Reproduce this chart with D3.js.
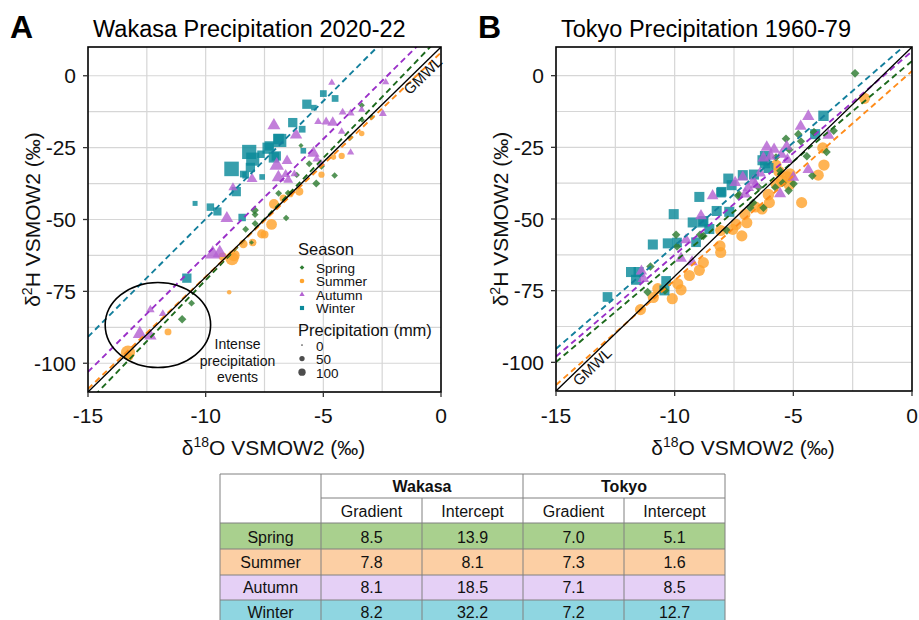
<!DOCTYPE html>
<html><head><meta charset="utf-8">
<script src="https://cdn.jsdelivr.net/npm/d3@7"></script>
<style>body{margin:0;background:#fff;} svg{display:block;font-family:"Liberation Sans",Arial,sans-serif;}</style>
</head><body><svg id="c" width="919" height="620"></svg>
<script>
// ---------------- data ----------------
const seasons = ["Spring", "Summer", "Autumn", "Winter"];
const xTicks = [-15, -10, -5, 0];
const yTicks = [0, -25, -50, -75, -100];
const sizeLegend = [0, 50, 100];

// table / regression values
const wakasaGradient = [8.5, 7.8, 8.1, 8.2];
const wakasaIntercept = [13.9, 8.1, 18.5, 32.2];
const tokyoGradient = [7.0, 7.3, 7.1, 7.2];
const tokyoIntercept = [5.1, 1.6, 8.5, 12.7];
const gmwl = [8, 10];

// [d18O, d2H, precipitation mm]
const wakasaSpring = [[-3.37,-10.3,40],[-2.95,-14.4,40],[-3.35,-15.4,30],[-3.86,-21.5,45],[-5.95,-24.3,25],[-5.6,-30.6,50],[-5.08,-31.5,50],[-4.52,-34.7,45],[-5.3,-37.5,70],[-6.9,-40.9,50],[-6.5,-40.8,45],[-7.92,-46.8,80],[-7.9,-48.3,50],[-6.58,-49.5,45],[-7.9,-51.4,50],[-8.3,-53.4,50],[-8.05,-58,20],[-10.6,-79.1,50],[-11.0,-84.7,80],[-6.13,-34.5,40]];
const wakasaSummer = [[-3.37,-20.1,30],[-4.22,-27.9,40],[-4.57,-28.3,30],[-5.08,-34.4,40],[-6.02,-40.3,70],[-6.4,-41.2,40],[-6.7,-42.6,60],[-7.1,-44.6,110],[-7.2,-51.7,130],[-7.5,-55.2,70],[-7.62,-55.0,90],[-8.0,-58,60],[-8.4,-58.5,80],[-8.8,-62.5,150],[-8.88,-63.6,200],[-9.28,-62.9,70],[-9.0,-75.3,18],[-11.6,-89.1,50],[-13.3,-96.3,230],[-13.25,-97.8,60]];
const wakasaAutumn = [[-4.64,-2.4,40],[-2.35,-2.2,40],[-7.1,-17.3,145],[-4.18,-12.7,50],[-3.84,-13.0,50],[-3.37,-11.8,40],[-2.47,-13.2,50],[-5.22,-16.0,50],[-4.88,-16.0,70],[-4.6,-16.3,100],[-4.22,-19.4,45],[-6.16,-20.6,130],[-5.42,-26.9,130],[-5.28,-29.0,60],[-3.84,-26.7,40],[-5.1,-30.5,55],[-6.54,-29.6,100],[-6.98,-31.2,180],[-6.91,-35.4,150],[-6.49,-36.2,80],[-8.03,-35.9,100],[-6.23,-34.2,50],[-6.6,-34.3,70],[-8.84,-38.9,70],[-9.1,-49.6,140],[-9.7,-62.0,200],[-9.4,-61.6,170],[-12.35,-81.4,60],[-11.82,-82.8,50],[-12.8,-89.8,170],[-12.35,-90.5,130]];
const wakasaWinter = [[-5.0,-6.2,60],[-4.5,-7.9,60],[-5.4,-11.1,40],[-5.7,-9.9,119],[-6.3,-16.3,119],[-5.9,-18.6,60],[-6.85,-22.5,243],[-7.3,-24.4,120],[-7.35,-25.2,175],[-7.1,-28.4,150],[-7.65,-27.3,75],[-8.15,-26.5,286],[-8.0,-29.0,243],[-8.1,-31.9,119],[-8.4,-34.2,60],[-8.9,-32.4,300],[-7.6,-35.2,40],[-8.3,-34.6,60],[-5.85,-26.1,40],[-8.7,-40.3,119],[-9.8,-45.7,75],[-9.5,-47.2,90],[-10.45,-44.4,30],[-8.45,-49.3,75],[-10.8,-70.4,119],[-6.9,-22.0,150],[-7.0,-27.9,120]];

const tokyoSpring = [[-2.4,0.8,85],[-3.3,-19.2,80],[-3.6,-26.6,80],[-4.2,-34.9,80],[-5.31,-22.0,80],[-4.79,-20.4,80],[-4.68,-22.9,75],[-4.13,-19.7,80],[-5.17,-25.8,75],[-5.73,-28.5,75],[-4.43,-28.1,80],[-4.99,-37.7,80],[-5.2,-40.1,80],[-5.45,-37.4,75],[-7.28,-41.5,80],[-6.69,-44.3,75],[-6.82,-46.1,80],[-6.26,-46.1,75],[-7.8,-54.0,80],[-8.79,-55.9,80],[-9.94,-55.5,80],[-11.02,-66.6,80],[-9.9,-59.6,75],[-11.14,-75.5,80],[-10.41,-74.9,80],[-8.93,-55.5,75],[-5.55,-33.2,75],[-6.46,-39.0,75],[-5.76,-39.0,75],[-7.33,-41.9,75]];
const tokyoSummer = [[-2.0,-7.9,140],[-3.76,-25.2,140],[-3.71,-31.2,145],[-3.95,-34.7,140],[-4.65,-44.3,140],[-5.25,-35.4,160],[-5.17,-38.0,150],[-5.73,-31.2,140],[-5.73,-37.7,150],[-6.05,-41.5,150],[-6.01,-44.3,140],[-5.14,-34.3,150],[-5.49,-36.6,150],[-7.04,-48.4,140],[-6.96,-51.3,140],[-7.41,-51.9,140],[-7.55,-53.6,140],[-7.17,-55.9,140],[-8.06,-54.0,140],[-8.09,-59.4,140],[-8.06,-61.7,140],[-8.79,-65.2,140],[-8.96,-67.9,140],[-9.38,-69.7,140],[-9.87,-72.6,140],[-9.73,-74.7,140],[-10.1,-77.8,140],[-10.71,-74.3,140],[-10.9,-77.4,140],[-11.44,-81.6,140],[-6.32,-46.5,140],[-5.6,-33.5,150],[-6.6,-45.8,140]];
const tokyoAutumn = [[-4.37,-14.2,125],[-4.69,-17.7,120],[-3.52,-20.8,120],[-6.12,-25.0,125],[-5.81,-25.7,120],[-5.95,-28.1,120],[-6.26,-28.7,120],[-5.28,-24.7,115],[-5.25,-29.3,115],[-4.37,-32.8,115],[-5.56,-41.2,125],[-7.13,-35.4,115],[-6.9,-39.1,115],[-6.69,-36.8,115],[-8.4,-41.9,115],[-8.89,-48.9,115],[-9.52,-57.3,115],[-9.73,-63.7,115],[-9.27,-65.0,115],[-11.32,-70.8,115],[-11.4,-68.2,110],[-6.6,-38.1,115],[-7.45,-37.3,115],[-7.03,-41.3,115],[-5.0,-35.5,115],[-6.4,-34.0,115],[-5.5,-27.5,115]];
const tokyoWinter = [[-3.73,-14.0,150],[-4.08,-20.4,140],[-6.19,-28.1,150],[-6.19,-30.5,150],[-6.05,-32.2,140],[-6.66,-34.5,140],[-7.13,-34.7,140],[-7.74,-35.9,140],[-7.6,-38.2,140],[-8.02,-40.5,130],[-8.23,-47.2,140],[-7.7,-47.5,140],[-8.79,-50.7,140],[-8.96,-42.3,140],[-10.04,-48.3,140],[-9.24,-51.2,140],[-8.82,-51.2,140],[-8.54,-53.5,140],[-10.92,-58.9,140],[-10.29,-58.5,140],[-9.9,-58.2,130],[-9.1,-58.1,130],[-11.84,-68.5,140],[-11.52,-68.5,140],[-11.63,-71.2,140],[-10.43,-74.9,140],[-10.36,-71.6,130],[-12.83,-77.2,130],[-8.05,-40.8,130],[-6.3,-29.5,140]];

// ---------------- style ----------------
const pointColor = {Spring:"#2e7d32", Summer:"#ffa42e", Autumn:"#b463d2", Winter:"#0b8a9a"};
const lineColor = {Spring:"#1d6a1d", Summer:"#ff8c1a", Autumn:"#9a30c8", Winter:"#137f9c"};
const shapeOf = {Spring:"diamond", Summer:"circle", Autumn:"triangle", Winter:"square"};
const rowFill = {Spring:"#a9d08e", Summer:"#fccfa4", Autumn:"#e5d0f6", Winter:"#8fd6e1"};
const FONT = '"Liberation Sans", Arial, sans-serif';

const svg = d3.select("#c");
const d2 = d3.scaleLinear().domain([0, 100]).range([4, 72]); // diameter^2
const diam = p => 1.12 * Math.sqrt(Math.max(0.5, d2(p)));

function symPath(shape, d) {
  if (shape === "circle") return d3.symbol(d3.symbolCircle, Math.PI * d * d / 4)();
  if (shape === "square") return d3.symbol(d3.symbolSquare, 0.81 * d * d)();
  if (shape === "triangle") { const s = 1.15 * d; return d3.symbol(d3.symbolTriangle, Math.sqrt(3) / 4 * s * s)(); }
  const h = d / 2;
  return `M0,${-h}L${h},0L0,${h}L${-h},0Z`;
}

function drawPanel(cfg) {
  const g = svg.append("g");
  const x = d3.scaleLinear().domain([-15, 0]).range([cfg.left, cfg.right]);
  const y = d3.scaleLinear().domain([-110, 10]).range([cfg.bottom, cfg.top]);
  const clipId = "clip" + cfg.id;
  svg.append("clipPath").attr("id", clipId).append("rect")
    .attr("x", cfg.left).attr("y", cfg.top)
    .attr("width", cfg.right - cfg.left).attr("height", cfg.bottom - cfg.top);

  // grid
  const gx = d3.range(-12.5, 0, 2.5);
  const gy = d3.range(-100, 10, 12.5);
  g.append("g").selectAll("line").data(gx).join("line")
    .attr("x1", d => x(d)).attr("x2", d => x(d)).attr("y1", cfg.top).attr("y2", cfg.bottom)
    .attr("stroke", "#d6d6d6").attr("stroke-width", 1.2);
  g.append("g").selectAll("line").data(gy).join("line")
    .attr("y1", d => y(d)).attr("y2", d => y(d)).attr("x1", cfg.left).attr("x2", cfg.right)
    .attr("stroke", "#d6d6d6").attr("stroke-width", 1.2);

  // points
  const pg = g.append("g").attr("clip-path", `url(#${clipId})`);
  cfg.order.forEach(si => {
    const s = seasons[si];
    pg.append("g").selectAll("path").data(cfg.data[si]).join("path")
      .attr("d", d => symPath(shapeOf[s], diam(d[2])))
      .attr("transform", d => `translate(${x(d[0])},${y(d[1])})`)
      .attr("fill", pointColor[s]).attr("fill-opacity", 0.82);
  });

  // regression lines
  const lg = g.append("g").attr("clip-path", `url(#${clipId})`);
  seasons.forEach((s, i) => {
    const m = cfg.grad[i], b = cfg.icpt[i];
    lg.append("line")
      .attr("x1", x(-15)).attr("y1", y(m * -15 + b))
      .attr("x2", x(0)).attr("y2", y(b))
      .attr("stroke", lineColor[s]).attr("stroke-width", 1.9)
      .attr("stroke-dasharray", "6,4");
  });
  // GMWL
  lg.append("line")
    .attr("x1", x(-15)).attr("y1", y(gmwl[0] * -15 + gmwl[1]))
    .attr("x2", x(0)).attr("y2", y(gmwl[1]))
    .attr("stroke", "#000").attr("stroke-width", 1.3);
  const ang = Math.atan2(y(gmwl[0] * 1 + gmwl[1]) - y(gmwl[1]), x(1) - x(0)) * 180 / Math.PI;
  const lx = cfg.gmwlAt;
  g.append("text")
    .attr("transform", `translate(${x(lx)},${y(gmwl[0] * lx + gmwl[1])}) rotate(${ang})`)
    .attr("text-anchor", "middle").attr("dy", 13)
    .attr("font-size", 15).attr("font-family", FONT).attr("fill", "#111")
    .text("GMWL");

  // border
  g.append("rect").attr("x", cfg.left).attr("y", cfg.top)
    .attr("width", cfg.right - cfg.left).attr("height", cfg.bottom - cfg.top)
    .attr("fill", "none").attr("stroke", "#000").attr("stroke-width", 1.6);

  // ticks
  g.append("g").selectAll("line").data(xTicks).join("line")
    .attr("x1", d => x(d)).attr("x2", d => x(d)).attr("y1", cfg.bottom).attr("y2", cfg.bottom + 5)
    .attr("stroke", "#333").attr("stroke-width", 1.3);
  g.append("g").selectAll("line").data(yTicks).join("line")
    .attr("y1", d => y(d)).attr("y2", d => y(d)).attr("x1", cfg.left - 5).attr("x2", cfg.left)
    .attr("stroke", "#333").attr("stroke-width", 1.3);
  g.append("g").selectAll("text").data(xTicks).join("text")
    .attr("x", d => x(d)).attr("y", 423).attr("text-anchor", "middle")
    .attr("font-size", 21).attr("font-family", FONT).attr("fill", "#111")
    .text(d => d);
  g.append("g").selectAll("text").data(yTicks).join("text")
    .attr("x", cfg.left - 12).attr("y", d => y(d) + 7.5).attr("text-anchor", "end")
    .attr("font-size", 21).attr("font-family", FONT).attr("fill", "#111")
    .text(d => d);

  // axis titles
  const xt = g.append("text").attr("x", (cfg.left + cfg.right) / 2 + 9).attr("y", 455)
    .attr("text-anchor", "middle").attr("font-size", 21).attr("font-family", FONT).attr("fill", "#111");
  xt.append("tspan").text("δ");
  xt.append("tspan").attr("font-size", 14).attr("dy", -8).text("18");
  xt.append("tspan").attr("dy", 8).text("O VSMOW2 (‰)");
  const yt = g.append("text")
    .attr("transform", `translate(${cfg.left - 48},${(cfg.top + cfg.bottom) / 2}) rotate(-90)`)
    .attr("text-anchor", "middle").attr("font-size", 21).attr("font-family", FONT).attr("fill", "#111");
  yt.append("tspan").text("δ");
  yt.append("tspan").attr("font-size", 14).attr("dy", -8).text("2");
  yt.append("tspan").attr("dy", 8).text("H VSMOW2 (‰)");

  // panel letter & title
  g.append("text").attr("x", cfg.left - 78).attr("y", 38).attr("font-size", 32).attr("font-weight", "bold")
    .attr("font-family", FONT).attr("fill", "#000").text(cfg.letter);
  g.append("text").attr("x", cfg.left + 5).attr("y", 37).attr("font-size", 23.5)
    .attr("font-family", FONT).attr("fill", "#000").text(cfg.title);
  return {x, y, g};
}

const A = drawPanel({id: "A", left: 88, right: 441, top: 47, bottom: 392, letter: "A",
  title: "Wakasa Precipitation 2020-22",
  data: [wakasaSpring, wakasaSummer, wakasaAutumn, wakasaWinter], order: [1, 0, 3, 2],
  grad: wakasaGradient, icpt: wakasaIntercept, gmwlAt: -1.0});
const B = drawPanel({id: "B", left: 556, right: 912, top: 47, bottom: 391, letter: "B",
  title: "Tokyo Precipitation 1960-79",
  data: [tokyoSpring, tokyoSummer, tokyoAutumn, tokyoWinter], order: [1, 3, 0, 2],
  grad: tokyoGradient, icpt: tokyoIntercept, gmwlAt: -13.7});

// ellipse annotation on panel A
A.g.append("ellipse")
  .attr("cx", A.x(-12.03)).attr("cy", A.y(-86.7))
  .attr("rx", A.x(-12.03 + 2.24) - A.x(-12.03)).attr("ry", A.y(-86.7) - A.y(-86.7 + 14.8))
  .attr("fill", "none").attr("stroke", "#000").attr("stroke-width", 1.6);
const noteLines = ["Intense", "precipitation", "events"];
A.g.append("g").selectAll("text").data(noteLines).join("text")
  .attr("x", 237.5).attr("y", (d, i) => 349 + i * 16.5).attr("text-anchor", "middle")
  .attr("font-size", 14).attr("font-family", FONT).attr("fill", "#111").text(d => d);

// legend in panel A
const leg = svg.append("g").attr("font-family", FONT).attr("fill", "#111");
leg.append("text").attr("x", 298).attr("y", 255).attr("font-size", 16.5).text("Season");
seasons.forEach((s, i) => {
  const yy = 272.5 + i * 13.5;
  leg.append("path").attr("d", symPath(shapeOf[s], 4.6)).attr("transform", `translate(302,${yy - 5})`)
    .attr("fill", pointColor[s]);
  leg.append("text").attr("x", 316).attr("y", yy).attr("font-size", 13.5).text(s);
});
leg.append("text").attr("x", 298).attr("y", 336).attr("font-size", 16.5).text("Precipitation (mm)");
sizeLegend.forEach((v, i) => {
  const yy = 350.5 + i * 13.6;
  leg.append("circle").attr("cx", 302).attr("cy", yy - 5.5).attr("r", diam(v) / 1.12 / 2 * 0.86).attr("fill", "#4d4d4d");
  leg.append("text").attr("x", 316).attr("y", yy).attr("font-size", 13.5).text(v);
});

// ---------------- table ----------------
const colX = [220, 321, 422, 523, 624, 725];
const rowY = [474, 498, 523, 549, 575, 600, 626];
const tg = svg.append("g").attr("font-family", FONT).attr("font-size", 16).attr("fill", "#111");
seasons.forEach((s, i) => {
  tg.append("rect").attr("x", colX[0]).attr("y", rowY[i + 2]).attr("width", colX[5] - colX[0])
    .attr("height", rowY[i + 3] - rowY[i + 2]).attr("fill", rowFill[s]);
});
const lc = "#808080";
function tl(x1, y1, x2, y2) { tg.append("line").attr("x1", x1).attr("y1", y1).attr("x2", x2).attr("y2", y2).attr("stroke", lc).attr("stroke-width", 1); }
tl(colX[0], rowY[0], colX[5], rowY[0]);
tl(colX[1], rowY[1], colX[5], rowY[1]);
for (let r = 2; r < rowY.length; r++) tl(colX[0], rowY[r], colX[5], rowY[r]);
[0, 1, 3, 5].forEach(c => tl(colX[c], rowY[0], colX[c], rowY[6]));
[2, 4].forEach(c => tl(colX[c], rowY[1], colX[c], rowY[6]));
const cx = c => (colX[c] + colX[c + 1]) / 2;
tg.append("text").attr("x", (colX[1] + colX[3]) / 2).attr("y", 492).attr("text-anchor", "middle").attr("font-weight", "bold").text("Wakasa");
tg.append("text").attr("x", (colX[3] + colX[5]) / 2).attr("y", 492).attr("text-anchor", "middle").attr("font-weight", "bold").text("Tokyo");
["Gradient", "Intercept", "Gradient", "Intercept"].forEach((t, i) => {
  tg.append("text").attr("x", cx(i + 1)).attr("y", 517).attr("text-anchor", "middle").text(t);
});
seasons.forEach((s, i) => {
  const yy = 542.5 + i * 25.3;
  const vals = [wakasaGradient[i], wakasaIntercept[i], tokyoGradient[i], tokyoIntercept[i]];
  tg.append("text").attr("x", cx(0)).attr("y", yy).attr("text-anchor", "middle").text(s);
  vals.forEach((v, j) => tg.append("text").attr("x", cx(j + 1)).attr("y", yy).attr("text-anchor", "middle").text(v.toFixed(1)));
});
</script></body></html>
